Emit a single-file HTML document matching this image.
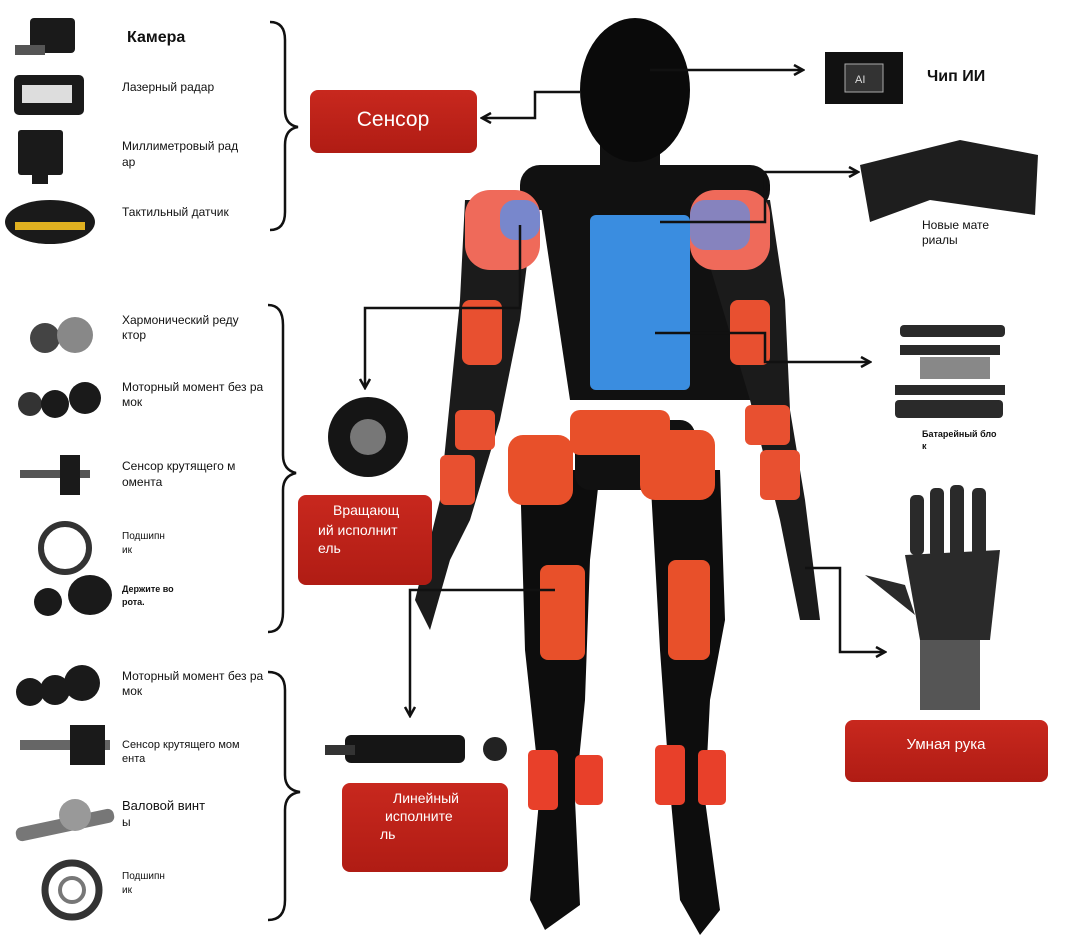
<!DOCTYPE html>
<html><head><meta charset="utf-8"><style>
body{margin:0;background:#fff;}
svg{display:block;font-family:"Liberation Sans",sans-serif;}
</style></head><body>
<svg width="1080" height="950" viewBox="0 0 1080 950" xmlns="http://www.w3.org/2000/svg">
<defs>
<linearGradient id="rg" x1="0" y1="0" x2="0" y2="1"><stop offset="0" stop-color="#c8281e"/><stop offset="1" stop-color="#b01c14"/></linearGradient>
<marker id="ar" markerWidth="12" markerHeight="12" refX="10" refY="6" orient="auto" markerUnits="userSpaceOnUse"><path d="M1,1 L10,6 L1,11" fill="none" stroke="#111" stroke-width="2.5"/></marker>
</defs>
<rect width="1080" height="950" fill="#fff"/>

<!-- left icons -->
<g fill="#1a1a1a">
<rect x="30" y="18" width="45" height="35" rx="4"/><rect x="15" y="45" width="30" height="10" fill="#555"/>
<rect x="14" y="75" width="70" height="40" rx="5"/><rect x="22" y="85" width="50" height="18" fill="#ddd"/>
<rect x="18" y="130" width="45" height="45" rx="3"/><rect x="32" y="170" width="16" height="14"/>
<ellipse cx="50" cy="222" rx="45" ry="22"/><rect x="15" y="222" width="70" height="8" fill="#e0b020"/>
<circle cx="45" cy="338" r="15" fill="#444"/><circle cx="75" cy="335" r="18" fill="#888"/>
<circle cx="30" cy="404" r="12" fill="#333"/><circle cx="55" cy="404" r="14"/><circle cx="85" cy="398" r="16"/>
<rect x="20" y="470" width="70" height="8" fill="#555"/><rect x="60" y="455" width="20" height="40"/>
<circle cx="65" cy="548" r="24" fill="none" stroke="#333" stroke-width="6"/>
<circle cx="48" cy="602" r="14"/><ellipse cx="90" cy="595" rx="22" ry="20"/>
<circle cx="30" cy="692" r="14"/><circle cx="55" cy="690" r="15"/><circle cx="82" cy="683" r="18"/>
<rect x="20" y="740" width="90" height="10" fill="#666"/><rect x="70" y="725" width="35" height="40"/>
<rect x="15" y="818" width="100" height="14" rx="6" fill="#777" transform="rotate(-12 65 825)"/><circle cx="75" cy="815" r="16" fill="#999"/>
<circle cx="72" cy="890" r="27" fill="none" stroke="#333" stroke-width="7"/><circle cx="72" cy="890" r="12" fill="none" stroke="#777" stroke-width="4"/>
</g>

<!-- left labels -->
<g fill="#111" font-size="12">
<text x="127" y="42" font-size="16" font-weight="bold">Камера</text>
<text x="122" y="91">Лазерный радар</text>
<text x="122" y="150">Миллиметровый рад</text><text x="122" y="166">ар</text>
<text x="122" y="216">Тактильный датчик</text>
<text x="122" y="324">Хармонический реду</text><text x="122" y="339">ктор</text>
<text x="122" y="391">Моторный момент без ра</text><text x="122" y="406">мок</text>
<text x="122" y="470">Сенсор крутящего м</text><text x="122" y="486">омента</text>
<text x="122" y="539" font-size="10">Подшипн</text><text x="122" y="553" font-size="10">ик</text>
<text x="122" y="592" font-size="9" font-weight="bold">Держите во</text><text x="122" y="605" font-size="9" font-weight="bold">рота.</text>
<text x="122" y="680">Моторный момент без ра</text><text x="122" y="695">мок</text>
<text x="122" y="748" font-size="11">Сенсор крутящего мом</text><text x="122" y="762" font-size="11">ента</text>
<text x="122" y="810" font-size="13">Валовой винт</text><text x="122" y="826">ы</text>
<text x="122" y="879" font-size="10">Подшипн</text><text x="122" y="893" font-size="10">ик</text>
</g>

<!-- braces -->
<g fill="none" stroke="#111" stroke-width="2.5">
<path d="M270,22 Q285,22 285,40 L285,110 Q285,125 298,127 Q285,129 285,145 L285,212 Q285,230 270,230"/>
<path d="M268,305 Q283,305 283,325 L283,455 Q283,470 296,473 Q283,476 283,490 L283,612 Q283,632 268,632"/>
<path d="M268,672 Q285,672 285,690 L285,775 Q285,790 300,792 Q285,794 285,810 L285,900 Q285,920 268,920"/>
</g>

<!-- robot -->
<g>
<!-- legs -->
<path d="M520,470 L600,470 L590,560 L585,700 L575,800 L580,905 L545,930 L530,900 L540,790 L525,650 Z" fill="#0d0d0d"/>
<path d="M650,470 L720,470 L725,620 L710,700 L705,800 L720,910 L700,935 L680,900 L670,790 L660,650 Z" fill="#0d0d0d"/>
<rect x="540" y="565" width="45" height="95" rx="8" fill="#e8502a"/>
<rect x="668" y="560" width="42" height="100" rx="8" fill="#e8502a"/>
<rect x="528" y="750" width="30" height="60" rx="5" fill="#e8402a"/>
<rect x="575" y="755" width="28" height="50" rx="5" fill="#e8402a"/>
<rect x="655" y="745" width="30" height="60" rx="5" fill="#e8402a"/>
<rect x="698" y="750" width="28" height="55" rx="5" fill="#e8402a"/>
<rect x="575" y="420" width="120" height="70" rx="15" fill="#111"/>
<rect x="508" y="435" width="65" height="70" rx="15" fill="#e8502a"/>
<rect x="640" y="430" width="75" height="70" rx="15" fill="#e8502a"/>
<rect x="570" y="410" width="100" height="45" rx="10" fill="#e8502a"/>
<!-- torso -->
<path d="M540,200 L770,200 L750,400 L570,400 Z" fill="#111"/>
<rect x="520" y="165" width="250" height="45" rx="20" fill="#111"/>
<rect x="590" y="215" width="100" height="175" rx="6" fill="#3a8de0"/>
<!-- arms -->
<path d="M465,200 L535,200 L520,320 L500,420 L470,520 L450,560 L430,630 L415,600 L440,500 L450,400 L460,300 Z" fill="#1b1b1b"/>
<rect x="465" y="190" width="75" height="80" rx="25" fill="#ef6a5a"/>
<rect x="462" y="300" width="40" height="65" rx="8" fill="#e85030"/>
<rect x="455" y="410" width="40" height="40" rx="6" fill="#e85030"/>
<rect x="440" y="455" width="35" height="50" rx="6" fill="#e85030"/>
<path d="M690,200 L770,200 L785,300 L790,410 L805,500 L820,620 L800,620 L780,520 L750,400 L720,300 Z" fill="#1b1b1b"/>
<rect x="690" y="190" width="80" height="80" rx="25" fill="#ef6a5a"/>
<rect x="730" y="300" width="40" height="65" rx="8" fill="#e85030"/>
<rect x="745" y="405" width="45" height="40" rx="6" fill="#e85030"/>
<rect x="760" y="450" width="40" height="50" rx="6" fill="#e85030"/>
<rect x="500" y="200" width="40" height="40" rx="15" fill="#5a8ee8" opacity="0.8"/>
<rect x="690" y="200" width="60" height="50" rx="15" fill="#5a8ee8" opacity="0.7"/>
<!-- head -->
<rect x="600" y="140" width="60" height="40" fill="#111"/>
<ellipse cx="635" cy="90" rx="55" ry="72" fill="#0a0a0a"/>
</g>

<!-- objects right -->
<rect x="825" y="52" width="78" height="52" fill="#111"/><rect x="845" y="64" width="38" height="28" fill="#333" stroke="#aaa"/><text x="855" y="83" fill="#ddd" font-size="11">AI</text>
<text x="927" y="81" font-size="16" font-weight="bold" fill="#111">Чип ИИ</text>
<path d="M860,165 L960,140 L1038,155 L1035,215 L930,200 L870,222 Z" fill="#1e1e1e"/>
<text x="922" y="229" font-size="12" fill="#111">Новые мате</text><text x="922" y="244" font-size="12" fill="#111">риалы</text>
<g fill="#2a2a2a"><rect x="900" y="325" width="105" height="12" rx="4"/><rect x="900" y="345" width="100" height="10"/><rect x="920" y="357" width="70" height="22" fill="#888"/><rect x="895" y="385" width="110" height="10"/><rect x="895" y="400" width="108" height="18" rx="4"/></g>
<text x="922" y="437" font-size="9" font-weight="bold" fill="#111">Батарейный бло</text><text x="922" y="449" font-size="9" font-weight="bold" fill="#111">к</text>
<g fill="#2a2a2a"><rect x="930" y="488" width="14" height="70" rx="5"/><rect x="950" y="485" width="14" height="75" rx="5"/><rect x="972" y="488" width="14" height="72" rx="5"/><rect x="910" y="495" width="14" height="60" rx="5"/><path d="M905,555 L1000,550 L990,640 L920,640 Z"/><path d="M865,575 L905,585 L915,615 Z"/><rect x="920" y="640" width="60" height="70" fill="#555"/></g>
<circle cx="368" cy="437" r="40" fill="#151515"/><circle cx="368" cy="437" r="18" fill="#777"/>
<rect x="345" y="735" width="120" height="28" rx="6" fill="#151515"/><rect x="325" y="745" width="30" height="10" fill="#333"/><circle cx="495" cy="749" r="12" fill="#222"/>

<!-- connectors -->
<g fill="none" stroke="#111" stroke-width="2.5">
<path d="M650,70 L803,70" marker-end="url(#ar)"/>
<path d="M580,92 L535,92 L535,118 L482,118" marker-end="url(#ar)"/>
<path d="M660,222 L765,222 L765,172 L858,172" marker-end="url(#ar)"/>
<path d="M655,333 L765,333 L765,362 L870,362" marker-end="url(#ar)"/>
<path d="M520,225 L520,308 L365,308 L365,388" marker-end="url(#ar)"/>
<path d="M555,590 L410,590 L410,716" marker-end="url(#ar)"/>
<path d="M805,568 L840,568 L840,652 L885,652" marker-end="url(#ar)"/>
</g>

<!-- red boxes -->
<rect x="310" y="90" width="167" height="63" rx="8" fill="url(#rg)"/>
<text x="393" y="126" text-anchor="middle" fill="#fff" font-size="21">Сенсор</text>
<rect x="298" y="495" width="134" height="90" rx="8" fill="url(#rg)"/>
<g fill="#fff" font-size="14"><text x="333" y="515">Вращающ</text><text x="318" y="535">ий исполнит</text><text x="318" y="553">ель</text></g>
<rect x="342" y="783" width="166" height="89" rx="8" fill="url(#rg)"/>
<g fill="#fff" font-size="14"><text x="393" y="803">Линейный</text><text x="385" y="821">исполните</text><text x="380" y="839">ль</text></g>
<rect x="845" y="720" width="203" height="62" rx="8" fill="url(#rg)"/>
<text x="946" y="749" text-anchor="middle" fill="#fff" font-size="15">Умная рука</text>
</svg>
</body></html>
